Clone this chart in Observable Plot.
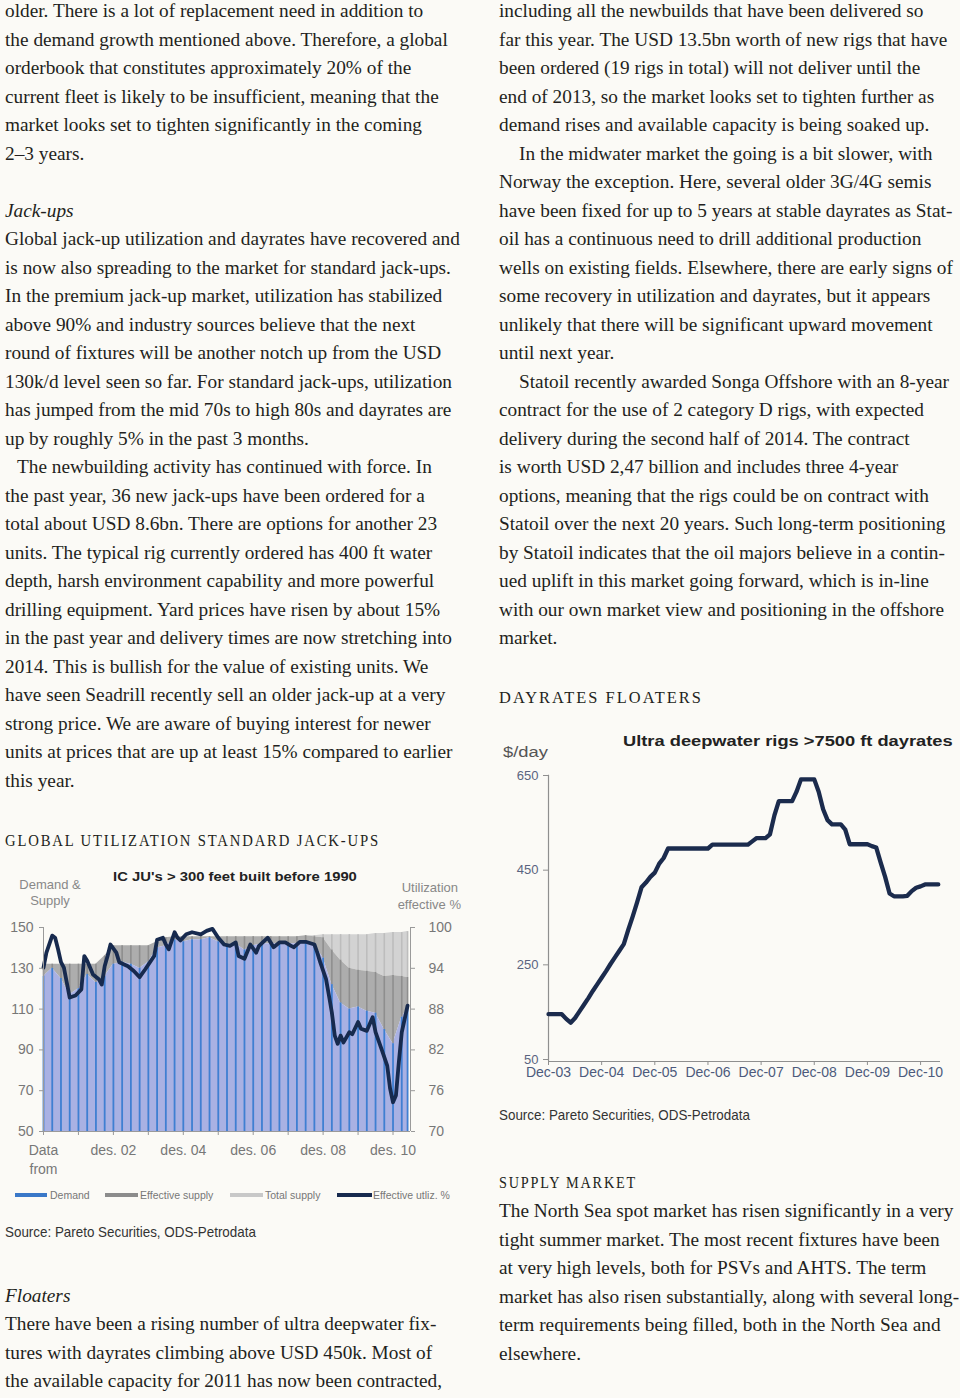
<!DOCTYPE html>
<html>
<head>
<meta charset="utf-8">
<script src="https://cdn.jsdelivr.net/npm/d3@7"></script>
<script src="https://cdn.jsdelivr.net/npm/@observablehq/plot@0.6"></script>
<style>
html,body{margin:0;padding:0;background:#fbfaf6;}
#page{position:relative;width:960px;height:1398px;overflow:hidden;background:#fbfaf6;}
#page svg{position:absolute;}
</style>
</head>
<body>
<div id="page"></div>
<script>
// ---------------- DATA ----------------
// Left chart: IC JU's > 300 feet built before 1990 (month index from Dec-2000)
const jMonths = [0,3,6,9,12,15,18,21,24,27,30,33,36,39,42,45,48,51,54,57,60,63,66,69,72,75,78,81,84,87,90,93,96,99,102,105,108,111,114,117,120,123,125];
const jTotalSupply = [132,132,132,132,132,132,132,136,141,141,141,141,141,143,145,145.5,145.5,145.5,145.5,145.5,145.5,145.5,145.5,145.5,145.5,145.5,145.5,145.5,145.5,145.5,146,146,146.5,146.5,146.5,146.5,146.5,146.5,147,147,147.5,147.5,148];
const jEffSupply = [132,132,132,132,132,132,132,136,141,141,141,141,141,143,145,145.5,145.5,145.5,145.5,145.5,145.5,145.5,145.5,145.5,145.5,145.5,145.5,145.5,145.5,145.5,146,145.5,145,139,134,130,129,128.5,128,126,126.5,126,125.5];
const jDemand = [126,130,125,117,120,127,123,126,132,133,132,130,133,140,141,144,143,144,144,145,143,141.5,142,139,141,142,142,142,142,142,143,142,135,122,113,110,111,109,108,100,93,106,110];
const uMonths = [0,1,3,4,5,6,7,9,11,13,14,15,17,19,20,21,22,23,25,26,29,31,33,35,38,39,41,42,43,45,46,47,49,51,54,56,58,60,62,64,66,67,69,71,73,74,77,79,81,83,85,86,88,90,93,94,95,97,98,99,100,101,102,103,105,106,108,109,111,113,114,116,118,119,120,121,122,123,125];
const uUtil = [94.1,96.3,98.8,98.5,96.8,94.9,94.1,89.7,90.0,90.9,95.8,95.1,93.1,92.4,91.6,94.3,95.8,97.5,96.3,94.9,94.3,93.6,92.7,93.9,95.8,98.2,98.5,97.5,96.8,99.3,98.5,98.1,99.0,99.3,99.0,99.5,99.8,98.5,97.5,97.3,97.8,95.8,95.4,97.5,96.3,97.3,98.5,97.1,97.8,97.8,97.3,97.1,97.9,97.9,97.5,96.3,94.9,92.4,90.0,87.5,84.1,82.9,84.1,83.1,84.6,84.3,86.1,85.1,84.8,86.8,84.6,82.2,79.7,76.3,74.3,75.3,80.2,84.6,88.5];
const jLeftTicks = [50,70,90,110,130,150];
const jRightTicks = [70,76,82,88,94,100];
const jYearTicks = [0,12,24,36,48,60,72,84,96,108,120];
const jXTicks = [0,24,48,72,96,120];
const jXLabels = ["Data\nfrom","des. 02","des. 04","des. 06","des. 08","des. 10"];
const jLegend = ["Demand","Effective supply","Total supply","Effective utliz. %"];

// Right chart: Ultra deepwater rigs >7500 ft dayrates (month index from Dec-03)
const rMonths = d3.range(0, 89);
const rDayrate = [150,150,150,150,140,132,142,156,170,184,199,213,227,241,256,270,284,298,328,356,386,418,428,440,449,468,480,500,
  500,500,500,500,500,500,500,500,500,
  508,508,508,508,508,508,508,508,508,
  515,522,522,522,530,570,600,600,600,600,620,646,646,646,646,620,583,560,551,551,551,540,509,509,509,509,509,505,502,470,440,405,399,399,399,400,410,417,420,424,424,424,424];
const rYTicks = [50,250,450,650];
const rXTicks = [0,12,24,36,48,60,72,84];
const rXLabels = ["Dec-03","Dec-04","Dec-05","Dec-06","Dec-07","Dec-08","Dec-09","Dec-10"];

// ---------------- TEXT ----------------
const leftTop = [
 "older. There is a lot of replacement need in addition to",
 "the demand growth mentioned above. Therefore, a global",
 "orderbook that constitutes approximately 20% of the",
 "current fleet is likely to be insufficient, meaning that the",
 "market looks set to tighten significantly in the coming",
 "2–3 years."
];
const leftJack = [
 "Global jack-up utilization and dayrates have recovered and",
 "is now also spreading to the market for standard jack-ups.",
 "In the premium jack-up market, utilization has stabilized",
 "above 90% and industry sources believe that the next",
 "round of fixtures will be another notch up from the USD",
 "130k/d level seen so far. For standard jack-ups, utilization",
 "has jumped from the mid 70s to high 80s and dayrates are",
 "up by roughly 5% in the past 3 months.",
 "The newbuilding activity has continued with force. In",
 "the past year, 36 new jack-ups have been ordered for a",
 "total about USD 8.6bn. There are options for another 23",
 "units. The typical rig currently ordered has 400 ft water",
 "depth, harsh environment capability and more powerful",
 "drilling equipment. Yard prices have risen by about 15%",
 "in the past year and delivery times are now stretching into",
 "2014. This is bullish for the value of existing units. We",
 "have seen Seadrill recently sell an older jack-up at a very",
 "strong price. We are aware of buying interest for newer",
 "units at prices that are up at least 15% compared to earlier",
 "this year."
];
const leftFloat = [
 "There have been a rising number of ultra deepwater fix-",
 "tures with dayrates climbing above USD 450k. Most of",
 "the available capacity for 2011 has now been contracted,"
];
const rightTop = [
 "including all the newbuilds that have been delivered so",
 "far this year. The USD 13.5bn worth of new rigs that have",
 "been ordered (19 rigs in total) will not deliver until the",
 "end of 2013, so the market looks set to tighten further as",
 "demand rises and available capacity is being soaked up.",
 "In the midwater market the going is a bit slower, with",
 "Norway the exception. Here, several older 3G/4G semis",
 "have been fixed for up to 5 years at stable dayrates as Stat-",
 "oil has a continuous need to drill additional production",
 "wells on existing fields. Elsewhere, there are early signs of",
 "some recovery in utilization and dayrates, but it appears",
 "unlikely that there will be significant upward movement",
 "until next year.",
 "Statoil recently awarded Songa Offshore with an 8-year",
 "contract for the use of 2 category D rigs, with expected",
 "delivery during the second half of 2014. The contract",
 "is worth USD 2,47 billion and includes three 4-year",
 "options, meaning that the rigs could be on contract with",
 "Statoil over the next 20 years. Such long-term positioning",
 "by Statoil indicates that the oil majors believe in a contin-",
 "ued uplift in this market going forward, which is in-line",
 "with our own market view and positioning in the offshore",
 "market."
];
const rightSupply = [
 "The North Sea spot market has risen significantly in a very",
 "tight summer market. The most recent fixtures have been",
 "at very high levels, both for PSVs and AHTS. The term",
 "market has also risen substantially, along with several long-",
 "term requirements being filled, both in the North Sea and",
 "elsewhere."
];
const source = "Source: Pareto Securities, ODS-Petrodata";

// ---------------- CHARTS ----------------
const page = document.getElementById("page");
const SANS = "'Liberation Sans', Arial, sans-serif";

const jd = jMonths.map((m, i) => ({m, d: jDemand[i], e: jEffSupply[i], t: jTotalSupply[i]}));
const ud = uMonths.map((m, i) => ({m, u: uUtil[i]}));
const toLeft = u => 50 + (u - 70) * 100 / 30; // right axis (70-100 %) onto left axis (50-150)
const rightLab = new Map(jLeftTicks.map((t, i) => [t, jRightTicks[i]]));
const xLab = new Map(jXTicks.map((t, i) => [t, jXLabels[i]]));

const left = Plot.plot({
  width: 470, height: 300,
  marginLeft: 43, marginRight: 60, marginTop: 65, marginBottom: 31,
  x: {domain: [0, 126], axis: null},
  y: {domain: [50, 150], axis: null},
  style: {background: "transparent", fontFamily: SANS, fontSize: "13.5px", overflow: "visible"},
  marks: [
    Plot.areaY(jd, {x: "m", y1: "e", y2: "t", fill: "#d3d3d3"}),
    Plot.areaY(jd, {x: "m", y1: "d", y2: "e", fill: "#adadad"}),
    Plot.areaY(jd, {x: "m", y1: 50, y2: "d", fill: "#a9b1e3"}),
    Plot.ruleX(jd, {x: "m", y1: "e", y2: "t", stroke: "#bdbdbd", strokeWidth: 1.6}),
    Plot.ruleX(jd, {x: "m", y1: "d", y2: "e", stroke: "#8e8e8e", strokeWidth: 1.6}),
    Plot.ruleX(jd, {x: "m", y1: 50, y2: "d", stroke: "#3f7fd2", strokeWidth: 1.8}),
    Plot.line(ud, {x: "m", y: d => toLeft(d.u), stroke: "#172a4e", strokeWidth: 3.8, strokeLinejoin: "round", strokeLinecap: "round"}),
    Plot.ruleX([0, 126], {y1: 50, y2: 150, stroke: "#9a9a9a"}),
    Plot.ruleY([50], {stroke: "#9a9a9a"}),
    Plot.axisY(jLeftTicks, {anchor: "left", label: null, tickSize: 4, tickPadding: 6, fill: "#777", stroke: "#999", fontSize: 14}),
    Plot.axisY(jLeftTicks, {anchor: "right", label: null, tickSize: 4, tickPadding: 14, tickFormat: d => rightLab.get(d), fill: "#777", stroke: "#999", fontSize: 14}),
    Plot.axisX(jYearTicks, {anchor: "bottom", label: null, tickSize: 4, tickPadding: 7, tickFormat: d => xLab.get(d) ?? "", fill: "#777", stroke: "#999", fontSize: 14, lineHeight: 1.3})
  ]
});
left.style.left = "0px"; left.style.top = "862px";
page.appendChild(left);

const rd = rMonths.map((m, i) => ({m, v: rDayrate[i]}));
const rLab = new Map(rXTicks.map((t, i) => [t, rXLabels[i]]));
const right = Plot.plot({
  width: 465, height: 320,
  marginLeft: 53, marginRight: 20, marginTop: 12, marginBottom: 24,
  x: {domain: [0, 88.5], axis: null},
  y: {domain: [50, 650], axis: null},
  style: {background: "transparent", fontFamily: SANS, fontSize: "13px", overflow: "visible"},
  marks: [
    Plot.ruleX([0], {y1: 50, y2: 655, stroke: "#8f8f8f", strokeWidth: 1.2}),
    Plot.ruleY([50], {x1: 0, x2: 88.5, stroke: "#8f8f8f", strokeWidth: 1.2}),
    Plot.axisY(rYTicks, {anchor: "left", label: null, tickSize: 5, tickPadding: 5, dy: -2, fill: "#5a6480", stroke: "#8f8f8f", fontSize: 13}),
    Plot.axisX(rXTicks, {anchor: "bottom", label: null, tickSize: 4, tickPadding: 2, tickFormat: d => rLab.get(d), fill: "#4d5a7c", stroke: "#8f8f8f", fontSize: 14}),
    Plot.line(rd, {x: "m", y: "v", stroke: "#1b2b4d", strokeWidth: 4.3, strokeLinejoin: "round", strokeLinecap: "round"})
  ]
});
right.style.left = "495px"; right.style.top = "765px";
page.appendChild(right);

// ---------------- TEXT OVERLAY ----------------
const NS = "http://www.w3.org/2000/svg";
const ov = document.createElementNS(NS, "svg");
ov.setAttribute("width", 960); ov.setAttribute("height", 1398);
ov.style.left = "0px"; ov.style.top = "0px";
page.appendChild(ov);

const SERIF = "font-family:'Liberation Serif','Times New Roman',serif;font-size:19.5px;";
const SERIF_I = SERIF + "font-style:italic;";
const HEAD = "font-family:'Liberation Serif','Times New Roman',serif;font-size:16px;letter-spacing:2px;";
const SRC = "font-family:'Liberation Sans',Arial,sans-serif;font-size:14.5px;";

function measure(str, font) {
  const t = document.createElementNS(NS, "text");
  t.setAttribute("style", font); t.textContent = str;
  ov.appendChild(t);
  const w = t.getComputedTextLength();
  ov.removeChild(t);
  return w;
}
function addText(str, x, y, font, o = {}) {
  const t = document.createElementNS(NS, "text");
  t.textContent = str;
  t.setAttribute("style", font);
  t.setAttribute("fill", o.fill || "#231f20");
  if (o.anchor) t.setAttribute("text-anchor", o.anchor);
  ov.appendChild(t);
  let k = o.k ?? 1;
  if (o.width) k = o.width / t.getComputedTextLength();
  t.setAttribute("transform", `translate(${x},${y}) scale(${k},1)`);
  return t;
}

const bodyK = (458 / measure(leftJack[0], SERIF) + 451 / measure(rightTop[7], SERIF)) / 2;
const LH = 28.5, B0 = 17.3;

leftTop.forEach((s, i) => addText(s, 5, B0 + LH * i, SERIF, {k: bodyK}));
addText("Jack-ups", 5, B0 + LH * 7, SERIF_I, {k: bodyK});
leftJack.forEach((s, i) => addText(s, i === 8 ? 17 : 5, B0 + LH * (8 + i), SERIF, {k: bodyK}));
addText("GLOBAL UTILIZATION STANDARD JACK-UPS", 5, 846, HEAD, {width: 375});
addText(source, 5, 1236.5, SRC, {width: 251, fill: "#333"});
addText("Floaters", 5, 1301.5, SERIF_I, {k: bodyK});
leftFloat.forEach((s, i) => addText(s, 5, 1330 + LH * i, SERIF, {k: bodyK}));

rightTop.forEach((s, i) => addText(s, (i === 5 || i === 13) ? 519 : 499, B0 + LH * i, SERIF, {k: bodyK}));
addText("DAYRATES FLOATERS", 499, 703, HEAD, {width: 204});
addText(source, 499, 1120, SRC, {width: 251, fill: "#333"});
addText("SUPPLY MARKET", 499, 1188, HEAD, {width: 138});
rightSupply.forEach((s, i) => addText(s, 499, 1217 + LH * i, SERIF, {k: bodyK}));

// chart annotations (left)
const CS = "font-family:'Liberation Sans',Arial,sans-serif;";
addText("IC JU's > 300 feet built before 1990", 235, 881, CS + "font-size:13px;font-weight:bold;", {anchor: "middle", width: 244, fill: "#222"});
addText("Demand &", 50, 889, CS + "font-size:13px;", {anchor: "middle", fill: "#888"});
addText("Supply", 50, 905, CS + "font-size:13px;", {anchor: "middle", fill: "#888"});
addText("Utilization", 458, 892, CS + "font-size:13px;", {anchor: "end", fill: "#888"});
addText("effective %", 461, 909, CS + "font-size:13px;", {anchor: "end", fill: "#888"});
// legend
const legCols = ["#3a78c8", "#8c8c8c", "#c8c8c8", "#172a4e"];
const legX = [[15, 47, 50], [105, 138, 140], [230, 263, 265], [337, 372, 373]];
jLegend.forEach((s, i) => {
  const r = document.createElementNS(NS, "rect");
  r.setAttribute("x", legX[i][0]); r.setAttribute("y", 1193);
  r.setAttribute("width", legX[i][1] - legX[i][0]); r.setAttribute("height", 4);
  r.setAttribute("fill", legCols[i]);
  ov.appendChild(r);
  addText(s, legX[i][2], 1198.5, CS + "font-size:10.5px;", {fill: "#777"});
});

// chart annotations (right)
addText("Ultra deepwater rigs >7500 ft dayrates", 623, 746, CS + "font-size:15.5px;font-weight:bold;", {width: 330, fill: "#222"});
addText("$/day", 503, 757, CS + "font-size:15px;", {width: 45, fill: "#555"});
</script>
</body>
</html>
